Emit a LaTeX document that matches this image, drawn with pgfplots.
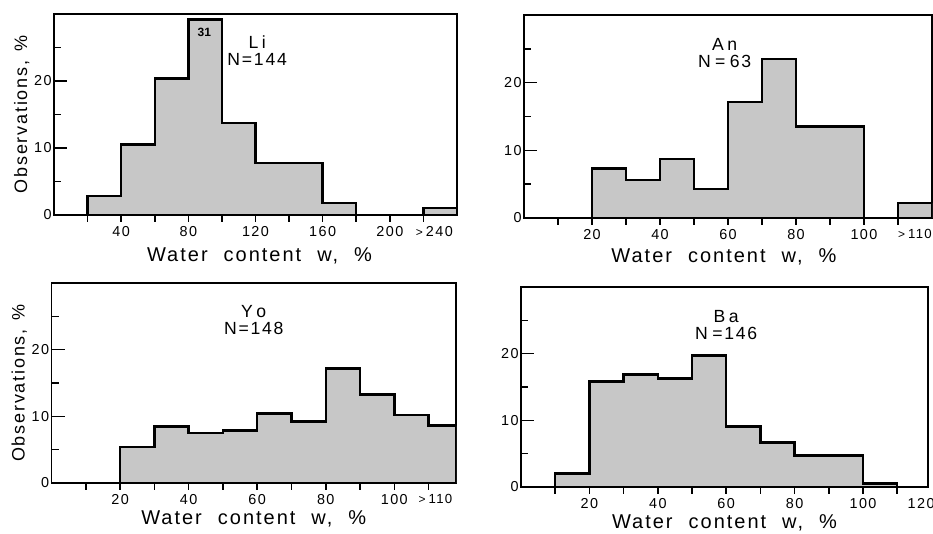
\documentclass[border=0pt]{standalone}
\usepackage{fontspec}
\setmainfont{Liberation Sans}
\newfontfamily\spc{Liberation Sans}[LetterSpace=10]
\usepackage{pgfplots}
\pgfplotsset{compat=1.18}

\definecolor{histfill}{gray}{0.78}
\newcommand{\wsp}{\hspace{0.8em}}

% 1 px of the reference = 0.5pt
\pgfplotsset{
  panel/.style={
    scale only axis, anchor=south west,
    ymin=0, ymax=30,
    axis line style={line width=0.8pt},
    ytick={0,10,20}, yticklabels={0,10,20},
    minor ytick={5,15,25},
    ytick pos=left, xtick pos=bottom,
    ytick align=inside, xtick align=outside,
    major tick length=6.5pt, minor tick length=3.5pt,
    every tick/.style={line width=0.8pt, black},
    every major x tick/.style={draw=none},
    tick label style={font=\fontsize{7.2}{8}\spc},
    yticklabel style={inner xsep=1pt},
    xticklabel style={inner ysep=0.5pt, yshift=1.5pt},
    xlabel={Water\wsp content\wsp w,\wsp\%},
    xlabel style={font=\fontsize{10}{12}\spc, anchor=base},
    ylabel style={font=\fontsize{9}{11}\spc, at={(axis description cs:-0.08,0.5)}, anchor=center},
    clip=true,
  },
  hist/.style={const plot, fill=histfill, draw=black, line width=1.2pt, line join=miter},
}
\tikzset{ttl/.style={font=\fontsize{8.8}{8.5}\spc, align=center, anchor=north, inner sep=0pt}}

\begin{document}
\begin{tikzpicture}
\path[use as bounding box] (0,0) rectangle (466.5pt,267pt);

% Li
\begin{axis}[panel, at={(27pt,159.5pt)}, width=201.5pt, height=100.5pt,
  xmin=0, xmax=240,
  xtick={40,80,120,160,200}, xticklabels={40,80,120,160,200},
  minor xtick={20,40,...,220},
  extra x ticks={226.5}, extra x tick labels={\fontsize{6}{6}\selectfont>\hspace{0.25em}\fontsize{7.2}{8}\selectfont240},
  ylabel={Observations,\hspace{0.5em}\%},
  xlabel style={at={(axis description cs:0.51,0)}, yshift=-23.5pt}]
\addplot[hist] coordinates {
  (20,0) (20,2.8) (40,10.5) (60,20.4) (80,29.2) (100,13.7) (120,7.8) (140,7.8)
  (160,1.8) (180,0) (220,0) (220,1.0) (240,1.0) (240,0)} \closedcycle;
\node[font=\bfseries\fontsize{6}{6}\selectfont] at (axis cs:89.5,27.2) {31};
\node[ttl] at (axis cs:121,26.8) {L\hspace{0.2em}i\\N=144};
\end{axis}

% An
\begin{axis}[panel, at={(262pt,158pt)}, width=204pt, height=101.5pt,
  xmin=0, xmax=120,
  xtick={20,40,60,80,100}, xticklabels={20,40,60,80,100},
  minor xtick={10,20,...,110},
  extra x ticks={115}, extra x tick labels={\fontsize{6}{6}\selectfont>\hspace{0.25em}\fontsize{6.6}{8}\selectfont110},
  xlabel style={at={(axis description cs:0.49,0)}, yshift=-22.5pt}]
\addplot[hist] coordinates {
  (20,0) (20,7.3) (30,5.6) (40,8.7) (50,4.3) (60,17.1) (70,23.5) (80,13.5) (90,13.5)
  (100,0) (110,0) (110,2.2) (120,2.2) (120,0)} \closedcycle;
\node[ttl] at (axis cs:59,26.6) {A\hspace{0.2em}n\\N\hspace{0.25em}=\hspace{0.25em}63};
\end{axis}

% Yo
\begin{axis}[panel, at={(25.75pt,25.5pt)}, width=202.25pt, height=100pt,
  xmin=0, xmax=118,
  xtick={20,40,60,80,100}, xticklabels={20,40,60,80,100},
  minor xtick={10,20,...,110},
  extra x ticks={112}, extra x tick labels={\fontsize{6}{6}\selectfont>\hspace{0.25em}\fontsize{6.6}{8}\selectfont110},
  ylabel={Observations,\hspace{0.5em}\%},
  xlabel style={at={(axis description cs:0.5,0)}, yshift=-21pt}]
\addplot[hist] coordinates {
  (20,0) (20,5.4) (30,8.5) (40,7.5) (50,7.9) (60,10.4) (70,9.2) (80,17.2) (90,13.3)
  (100,10.2) (110,8.6) (118,8.6) (118,0)} \closedcycle;
\node[ttl] at (axis cs:59,26.7) {Y\hspace{0.2em}o\\N=148};
\end{axis}

% Ba
\begin{axis}[panel, at={(260.5pt,23.5pt)}, width=203.5pt, height=100pt,
  xmin=0, xmax=119,
  xtick={20,40,60,80,100}, xticklabels={20,40,60,80,100},
  minor xtick={10,20,...,110},
  extra x ticks={117}, extra x tick labels={120},
  xlabel style={at={(axis description cs:0.5,0)}, yshift=-21pt}]
\addplot[hist] coordinates {
  (10,0) (10,2.0) (20,15.8) (30,16.9) (40,16.3) (50,19.7) (60,9.1) (70,6.7) (80,4.7)
  (90,4.7) (100,0.5) (110,0.5) (110,0)} \closedcycle;
\node[ttl] at (axis cs:60,26.5) {B\hspace{0.2em}a\\N\hspace{0.25em}=146};
\end{axis}
\end{tikzpicture}
\end{document}
